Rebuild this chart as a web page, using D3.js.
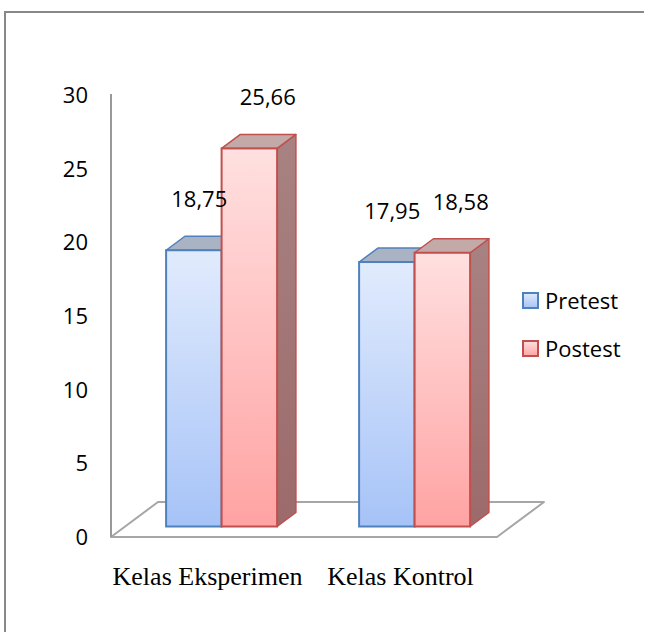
<!DOCTYPE html>
<html>
<head>
<meta charset="utf-8">
<script src="https://cdn.jsdelivr.net/npm/d3@7/dist/d3.min.js"></script>
<style>
  html, body { margin: 0; padding: 0; background: #fff; overflow: hidden; width: 645px; height: 632px; }
  svg { display: block; overflow: hidden; }
  .num { font-family: "Open Sans", sans-serif; font-size: 22px; fill: #000; }
  .cat { font-family: "Liberation Serif", "Times New Roman", serif; font-size: 26px; fill: #000; }
</style>
</head>
<body>
<div id="chart"></div>
<script>
/* 3D-style clustered columns: pretest vs postest per class. */

var categories = ["Kelas Eksperimen", "Kelas Kontrol"];
var seriesNames = ["Pretest", "Postest"];
var pretest = [18.75, 17.95];
var postest = [25.66, 18.58];
var valueLabels = [["18,75", "17,95"], ["25,66", "18,58"]];
var yTicks = [0, 5, 10, 15, 20, 25, 30];

var width = 645, height = 632;
var svg = d3.select("#chart").append("svg")
  .attr("width", width).attr("height", height);

var defs = svg.append("defs");
function vgrad(id, top, bottom) {
  var g = defs.append("linearGradient").attr("id", id)
    .attr("x1", 0).attr("y1", 0).attr("x2", 0).attr("y2", 1);
  g.append("stop").attr("offset", "0%").attr("stop-color", top);
  g.append("stop").attr("offset", "100%").attr("stop-color", bottom);
}
vgrad("gBlue", "#e1ebfd", "#a6c3f7");
vgrad("gRed", "#ffe0e0", "#ffa3a3");
vgrad("gRedSide", "#a88282", "#9c6a6a");
vgrad("gBlueSide", "#8e9fb8", "#7d93b3");

var style = [
  { front: "url(#gBlue)", top: "#aab3c3", side: "url(#gBlueSide)", stroke: "#4f81bd" },
  { front: "url(#gRed)", top: "#c4a9a9", side: "url(#gRedSide)", stroke: "#c0504d" }
];

// outer frame: only left and top edges show
svg.append("line").attr("x1", 5).attr("x2", 5).attr("y1", 11).attr("y2", height)
  .attr("stroke", "#888").attr("stroke-width", 2);
svg.append("line").attr("x1", 4).attr("x2", width - 1).attr("y1", 12).attr("y2", 12)
  .attr("stroke", "#888").attr("stroke-width", 2);

// geometry of the floor
var floorLeft = 111, floorRight = 497, floorFront = 537;
var depth = { x: 47, y: -35 };
var barDepth = 0.4, barStart = 0.3;

var x0 = d3.scaleBand().domain(categories).range([floorLeft, floorRight]);
var x1 = d3.scaleBand().domain(seriesNames).range([0, 111]);
var y = d3.scaleLinear().domain([0, 30]).range([floorFront, 95]);

// floor
svg.append("path")
  .attr("d", "M" + floorLeft + "," + floorFront +
    "L" + floorRight + "," + floorFront +
    "L" + (floorRight + depth.x) + "," + (floorFront + depth.y) +
    "L" + (floorLeft + depth.x) + "," + (floorFront + depth.y) + "Z")
  .attr("fill", "#fff").attr("stroke", "#a6a6a6").attr("stroke-width", 2)
  .attr("stroke-linejoin", "round");

// vertical axis line
svg.append("line")
  .attr("x1", floorLeft).attr("x2", floorLeft)
  .attr("y1", y(30) - 1).attr("y2", floorFront)
  .attr("stroke", "#999").attr("stroke-width", 2);

// tick labels
svg.selectAll("text.tick").data(yTicks).enter().append("text")
  .attr("class", "num").attr("text-anchor", "end")
  .attr("x", 88).attr("y", function (d) { return y(d); })
  .attr("dy", "0.36em")
  .text(function (d) { return d; });

// bars
var offX = depth.x * barStart, offY = depth.y * barStart;
var dX = depth.x * barDepth, dY = depth.y * barDepth;
var bandPad = (x0.bandwidth() - x1.range()[1]) / 2;
var labelNudge = [-4, 9];
var barLayer = svg.append("g");
var labelLayer = svg.append("g");

categories.forEach(function (cat, ci) {
  [pretest, postest].forEach(function (vals, si) {
    var s = style[si];
    var v = vals[ci];
    var xl = x0(cat) + bandPad + x1(seriesNames[si]) + offX;
    var xr = xl + x1.bandwidth();
    var yb = y(0) + offY;
    var yt = y(v) + offY;
    var g = barLayer.append("g");
    // side
    g.append("path")
      .attr("d", "M" + xr + "," + yt + "L" + (xr + dX) + "," + (yt + dY) +
        "L" + (xr + dX) + "," + (yb + dY) + "L" + xr + "," + yb + "Z")
      .attr("fill", s.side).attr("stroke", s.stroke).attr("stroke-width", 1.5)
      .attr("stroke-linejoin", "round");
    // top
    g.append("path")
      .attr("d", "M" + xl + "," + yt + "L" + (xl + dX) + "," + (yt + dY) +
        "L" + (xr + dX) + "," + (yt + dY) + "L" + xr + "," + yt + "Z")
      .attr("fill", s.top).attr("stroke", s.stroke).attr("stroke-width", 1.5)
      .attr("stroke-linejoin", "round");
    // front
    g.append("rect")
      .attr("x", xl).attr("y", yt)
      .attr("width", xr - xl).attr("height", yb - yt)
      .attr("fill", s.front).attr("stroke", s.stroke).attr("stroke-width", 2);
    // value label (drawn above all bars)
    labelLayer.append("text").attr("class", "num").attr("text-anchor", "middle")
      .attr("x", (xl + xr) / 2 + dX / 2 + labelNudge[si])
      .attr("y", yt - 51).attr("dy", "0.36em")
      .text(valueLabels[si][ci]);
  });
});

// category labels
svg.selectAll("text.cat").data(categories).enter().append("text")
  .attr("class", "cat").attr("text-anchor", "middle")
  .attr("x", function (d) { return x0(d) + x0.bandwidth() / 2; })
  .attr("y", 585)
  .text(function (d) { return d; });

// legend
var lg = svg.append("g").attr("transform", "translate(523,293)");
seriesNames.forEach(function (name, i) {
  var row = lg.append("g").attr("transform", "translate(0," + (i * 48) + ")");
  row.append("rect").attr("x", 0).attr("y", 0).attr("width", 15).attr("height", 15)
    .attr("fill", style[i].front).attr("stroke", style[i].stroke).attr("stroke-width", 2);
  row.append("text").attr("class", "num").attr("x", 22).attr("y", 8)
    .attr("dy", "0.36em").text(name);
});
</script>
</body>
</html>
